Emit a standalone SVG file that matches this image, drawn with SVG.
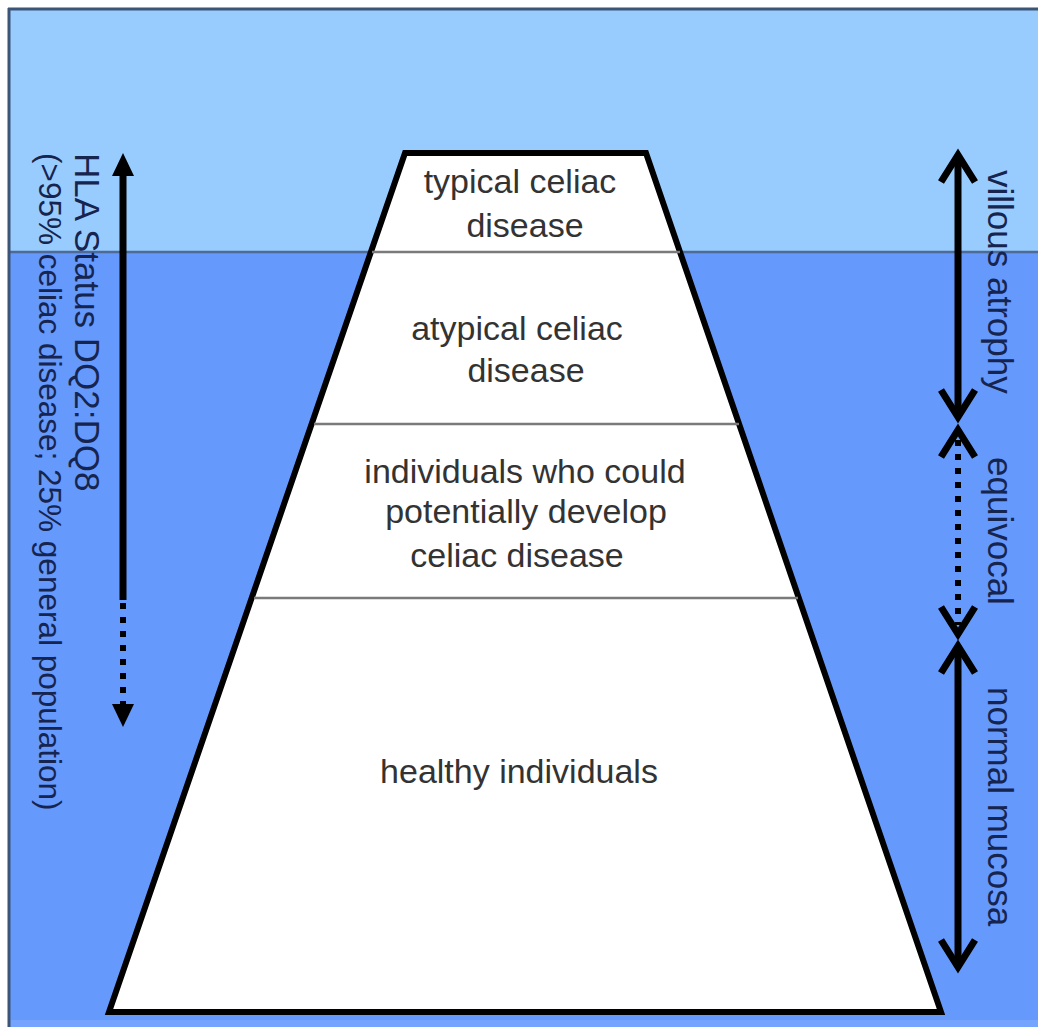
<svg xmlns="http://www.w3.org/2000/svg" width="1038" height="1027" viewBox="0 0 1038 1027">
<style>
.ctext{font-family:"Liberation Sans",Arial,sans-serif;font-size:34px;fill:#333;text-anchor:middle}
.side{font-family:"Liberation Sans",Arial,sans-serif;fill:#16254f}
.div{stroke:#7a7a7a;stroke-width:2.5}
.arr{stroke:#000;stroke-width:7;fill:none}
.dot{stroke:#000;stroke-width:6;fill:none;stroke-dasharray:6 8}
.chev{stroke:#000;stroke-width:7;fill:none;stroke-linejoin:miter;stroke-linecap:butt}
</style>
<rect x="0" y="0" width="1038" height="1027" fill="#ffffff"/>
<g id="background">
<rect x="8" y="8" width="1030" height="1019" fill="#6699fc"/>
<rect x="8" y="8" width="1030" height="244" fill="#99ccfe"/>
<rect x="8" y="1020" width="1030" height="7" fill="#74a4fd"/>
<line x1="8" y1="252" x2="1038" y2="252" stroke="#4d6a99" stroke-width="2.5"/>
<line x1="8" y1="9" x2="1038" y2="9" stroke="#3c5577" stroke-width="3"/>
<line x1="9" y1="8" x2="9" y2="1027" stroke="#3c5577" stroke-width="3"/>
</g>
<g id="iceberg">
<polygon points="405,153 646,153 941,1012 109,1012" fill="#ffffff" stroke="#000" stroke-width="6" stroke-linejoin="miter"/>
<line class="div" x1="372" y1="252" x2="680" y2="252"/>
<line class="div" x1="314" y1="424" x2="739" y2="424"/>
<line class="div" x1="254" y1="598" x2="798" y2="598"/>
</g>
<g id="node-typical">
<text class="ctext" x="520" y="193">typical celiac</text>
<text class="ctext" x="525" y="237">disease</text>
</g>
<g id="node-atypical">
<text class="ctext" x="517" y="340">atypical celiac</text>
<text class="ctext" x="526" y="382">disease</text>
</g>
<g id="node-potential">
<text class="ctext" x="525" y="483">individuals who could</text>
<text class="ctext" x="526" y="523">potentially develop</text>
<text class="ctext" x="517" y="567">celiac disease</text>
</g>
<g id="node-healthy">
<text class="ctext" x="519" y="783">healthy individuals</text>
</g>
<g id="label-hla">
<text class="side" font-size="35" transform="translate(75,153) rotate(90)">HLA Status DQ2:DQ8</text>
<text class="side" font-size="31.5" transform="translate(39,153) rotate(90)">(&gt;95% celiac disease; 25% general population)</text>
</g>
<g id="label-villous"><text class="side" font-size="35" transform="translate(988,170) rotate(90)">villous atrophy</text></g>
<g id="label-equivocal"><text class="side" font-size="35" transform="translate(988,457) rotate(90)">equivocal</text></g>
<g id="label-normal"><text class="side" font-size="35" transform="translate(988,687) rotate(90)">normal mucosa</text></g>
<g id="connectors">
<line class="arr" x1="123" y1="172" x2="123" y2="600"/>
<polygon points="123,153 112,176 134,176" fill="#000"/>
<line class="dot" x1="123" y1="603" x2="123" y2="704"/>
<polygon points="123,727 112,704 134,704" fill="#000"/>
<line class="arr" x1="958" y1="156" x2="958" y2="414"/>
<polyline class="chev" points="941,182 958,155 975,182"/>
<polyline class="chev" points="941,390 958,417 975,390"/>
<line class="dot" x1="958" y1="440" x2="958" y2="625" stroke-width="5" stroke-dasharray="5 8"/>
<polyline class="chev" points="941,457 958,430 975,457"/>
<polyline class="chev" points="941,607 958,634 975,607"/>
<line class="arr" x1="958" y1="649" x2="958" y2="964"/>
<polyline class="chev" points="941,673 958,646 975,673"/>
<polyline class="chev" points="941,940 958,967 975,940"/>
</g>
</svg>
